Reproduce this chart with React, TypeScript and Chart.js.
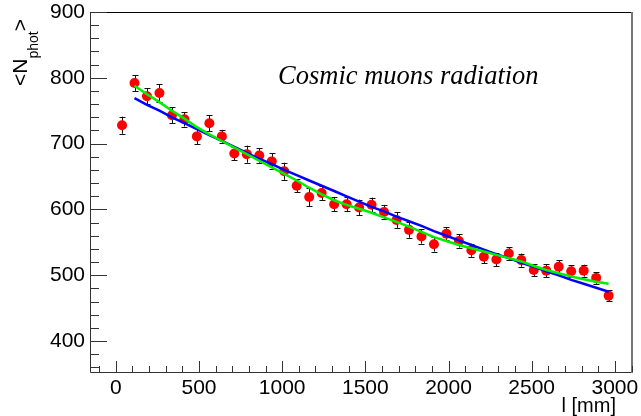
import React, { useEffect, useRef } from "react";
import { Chart, registerables } from "chart.js";

Chart.register(...registerables);

// Measured points
const lengthsMm = [
  37.5, 112.5, 187.5, 262.5, 337.5, 412.5, 487.5, 562.5, 637.5, 712.5,
  787.5, 862.5, 937.5, 1012.5, 1087.5, 1162.5, 1237.5, 1312.5, 1387.5, 1462.5,
  1537.5, 1612.5, 1687.5, 1762.5, 1837.5, 1912.5, 1987.5, 2062.5, 2137.5, 2212.5,
  2287.5, 2362.5, 2437.5, 2512.5, 2587.5, 2662.5, 2737.5, 2812.5, 2887.5, 2962.5,
];
const meanPhot = [
  728, 792, 772, 777, 743, 737, 711, 731, 711, 685,
  684, 682, 673, 658, 636, 619, 625, 608, 608, 603,
  607, 596, 584, 569, 559, 547, 563, 552, 538, 528,
  524, 533, 523, 508, 507, 513, 506, 507, 496, 469,
];
const photErr = [
  13, 12, 12, 13, 12, 11, 12, 12, 10, 10,
  13, 11, 12, 13, 10, 14, 11, 11, 11, 12,
  11, 11, 12, 12, 11, 11, 10, 10, 10, 10,
  10, 10, 10, 9, 10, 10, 9, 9, 9, 8,
];

// Fit curves (sampled at the measured lengths, from 112.5 mm on)
const fitLengthsMm = lengthsMm.slice(1);
const blueFit = [
  769, 759, 750, 740, 731, 722, 713, 704, 695, 686,
  677, 669, 660, 652, 644, 636, 628, 620, 612, 604,
  597, 589, 582, 575, 567, 560, 553, 546, 539, 532,
  526, 519, 513, 506, 500, 493, 487, 481, 475,
];
const greenFit = [
  788, 775, 763, 750, 738, 725, 714, 704, 694, 684,
  674, 664, 654, 644, 633, 623, 614, 607, 601, 595,
  588, 581, 574, 566, 558, 552, 546, 541, 536, 531,
  526, 521, 514, 508, 503, 498, 494, 490, 487,
];

const xTickValues = [0, 500, 1000, 1500, 2000, 2500, 3000];
const yTickValues = [400, 500, 600, 700, 800, 900];

const X_MIN = -155;
const X_MAX = 3103;
const Y_MIN = 353;
const Y_MAX = 900;

const SANS = "'Liberation Sans', Arial, Helvetica, sans-serif";
const SERIF = "'Liberation Serif', 'Times New Roman', serif";

const rootStylePlugin = {
  id: "rootStyle",
  beforeDatasetsDraw(chart: any) {
    const { ctx, scales } = chart;
    const xs = scales.x;
    const ys = scales.y;
    ctx.save();
    ctx.strokeStyle = "#111";
    ctx.lineWidth = 1;
    for (let i = 0; i < lengthsMm.length; i++) {
      const px = Math.round(xs.getPixelForValue(lengthsMm[i])) + 0.5;
      const top = ys.getPixelForValue(meanPhot[i] + photErr[i]);
      const bot = ys.getPixelForValue(meanPhot[i] - photErr[i]);
      ctx.beginPath();
      ctx.moveTo(px, top);
      ctx.lineTo(px, bot);
      ctx.moveTo(px - 3, Math.round(top) + 0.5);
      ctx.lineTo(px + 3, Math.round(top) + 0.5);
      ctx.moveTo(px - 3, Math.round(bot) + 0.5);
      ctx.lineTo(px + 3, Math.round(bot) + 0.5);
      ctx.stroke();
    }
    ctx.restore();
  },
  afterDraw(chart: any) {
    const { ctx, chartArea, scales } = chart;
    const xs = scales.x;
    const ys = scales.y;
    const { left, right, top, bottom } = chartArea;
    ctx.save();

    // frame
    ctx.lineWidth = 1;
    ctx.strokeStyle = "#333";
    ctx.beginPath();
    ctx.moveTo(left + 0.5, top);
    ctx.lineTo(left + 0.5, bottom + 0.5);
    ctx.lineTo(right, bottom + 0.5);
    ctx.stroke();
    ctx.strokeStyle = "#000";
    ctx.beginPath();
    ctx.moveTo(left, top + 0.5);
    ctx.lineTo(right, top + 0.5);
    ctx.stroke();
    ctx.strokeStyle = "#777";
    ctx.lineWidth = 2;
    ctx.beginPath();
    ctx.moveTo(right, top);
    ctx.lineTo(right, bottom + 1);
    ctx.stroke();

    // inner ticks
    ctx.lineWidth = 1;
    ctx.strokeStyle = "#333";
    ctx.beginPath();
    for (let v = 360; v <= Y_MAX; v += 20) {
      const py = Math.round(ys.getPixelForValue(v)) + 0.5;
      const len = v % 100 === 0 ? 17 : 9;
      ctx.moveTo(left, py);
      ctx.lineTo(left + len, py);
    }
    for (let v = -100; v <= X_MAX; v += 100) {
      const px = Math.round(xs.getPixelForValue(v)) + 0.5;
      const len = v % 500 === 0 ? 11 : 6;
      ctx.moveTo(px, bottom);
      ctx.lineTo(px, bottom - len);
    }
    ctx.stroke();

    // y title <N_phot>
    ctx.fillStyle = "#000";
    ctx.translate(27, 86);
    ctx.rotate(-Math.PI / 2);
    ctx.textAlign = "left";
    ctx.textBaseline = "alphabetic";
    ctx.font = `21px ${SANS}`;
    let x = 0;
    ctx.fillText("<N", x, 0);
    x += ctx.measureText("<N").width;
    ctx.font = `14px ${SANS}`;
    ctx.fillText("phot", x, 11);
    x += ctx.measureText("phot").width;
    ctx.font = `21px ${SANS}`;
    ctx.fillText(">", x, 0);
    ctx.setTransform(1, 0, 0, 1, 0, 0);

    // x title
    ctx.font = `20px ${SANS}`;
    ctx.textAlign = "right";
    ctx.fillText("l [mm]", right - 16, 412);

    // annotation
    ctx.font = `italic 26.5px ${SERIF}`;
    ctx.textAlign = "left";
    ctx.fillText("Cosmic muons radiation", left + 188, 84);
    ctx.restore();
  },
};

export default function App() {
  const canvasRef = useRef<HTMLCanvasElement | null>(null);

  useEffect(() => {
    document.body.style.margin = "0";
    const canvas = canvasRef.current;
    if (!canvas) return;
    const chart = new Chart(canvas, {
      type: "line",
      data: {
        datasets: [
          {
            label: "fit2",
            data: fitLengthsMm.map((l, i) => ({ x: l, y: greenFit[i] })),
            borderColor: "#00ee00",
            borderWidth: 2.5,
            pointRadius: 0,
            tension: 0,
            order: 0,
          },
          {
            label: "fit1",
            data: fitLengthsMm.map((l, i) => ({ x: l, y: blueFit[i] })),
            borderColor: "#0000ff",
            borderWidth: 2.5,
            pointRadius: 0,
            tension: 0,
            order: 1,
          },
          {
            label: "data",
            data: lengthsMm.map((l, i) => ({ x: l, y: meanPhot[i] })),
            showLine: false,
            pointRadius: 5,
            pointBackgroundColor: "#ff0000",
            pointBorderWidth: 0,
            borderColor: "#ff0000",
            order: 2,
          },
        ],
      },
      options: {
        animation: false,
        responsive: true,
        maintainAspectRatio: false,
        layout: { padding: { top: 12, right: 9, left: 0, bottom: 0 } },
        plugins: { legend: { display: false }, tooltip: { enabled: false } },
        scales: {
          x: {
            type: "linear",
            min: X_MIN,
            max: X_MAX,
            grid: { display: false, drawTicks: false },
            border: { display: false },
            ticks: {
              color: "#000",
              font: { family: SANS, size: 21 },
              padding: 4,
              maxRotation: 0,
              autoSkip: false,
              callback: (v: any) => String(v),
            },
            afterBuildTicks: (s: any) => {
              s.ticks = xTickValues.map((v) => ({ value: v }));
            },
            afterFit: (s: any) => {
              s.height = 44;
              s.paddingLeft = 0;
              s.paddingRight = 0;
            },
          },
          y: {
            type: "linear",
            min: Y_MIN,
            max: Y_MAX,
            grid: { display: false, drawTicks: false },
            border: { display: false },
            ticks: {
              color: "#000",
              font: { family: SANS, size: 21 },
              padding: 5,
              autoSkip: false,
              callback: (v: any) => String(v),
            },
            afterBuildTicks: (s: any) => {
              s.ticks = yTickValues.map((v) => ({ value: v }));
            },
            afterFit: (s: any) => {
              s.width = 90;
              s.paddingTop = 0;
              s.paddingBottom = 0;
            },
          },
        },
      },
      plugins: [rootStylePlugin],
    });
    return () => chart.destroy();
  }, []);

  return (
    <div style={{ width: 641, height: 416, position: "relative", background: "#fff" }}>
      <canvas ref={canvasRef} />
    </div>
  );
}
